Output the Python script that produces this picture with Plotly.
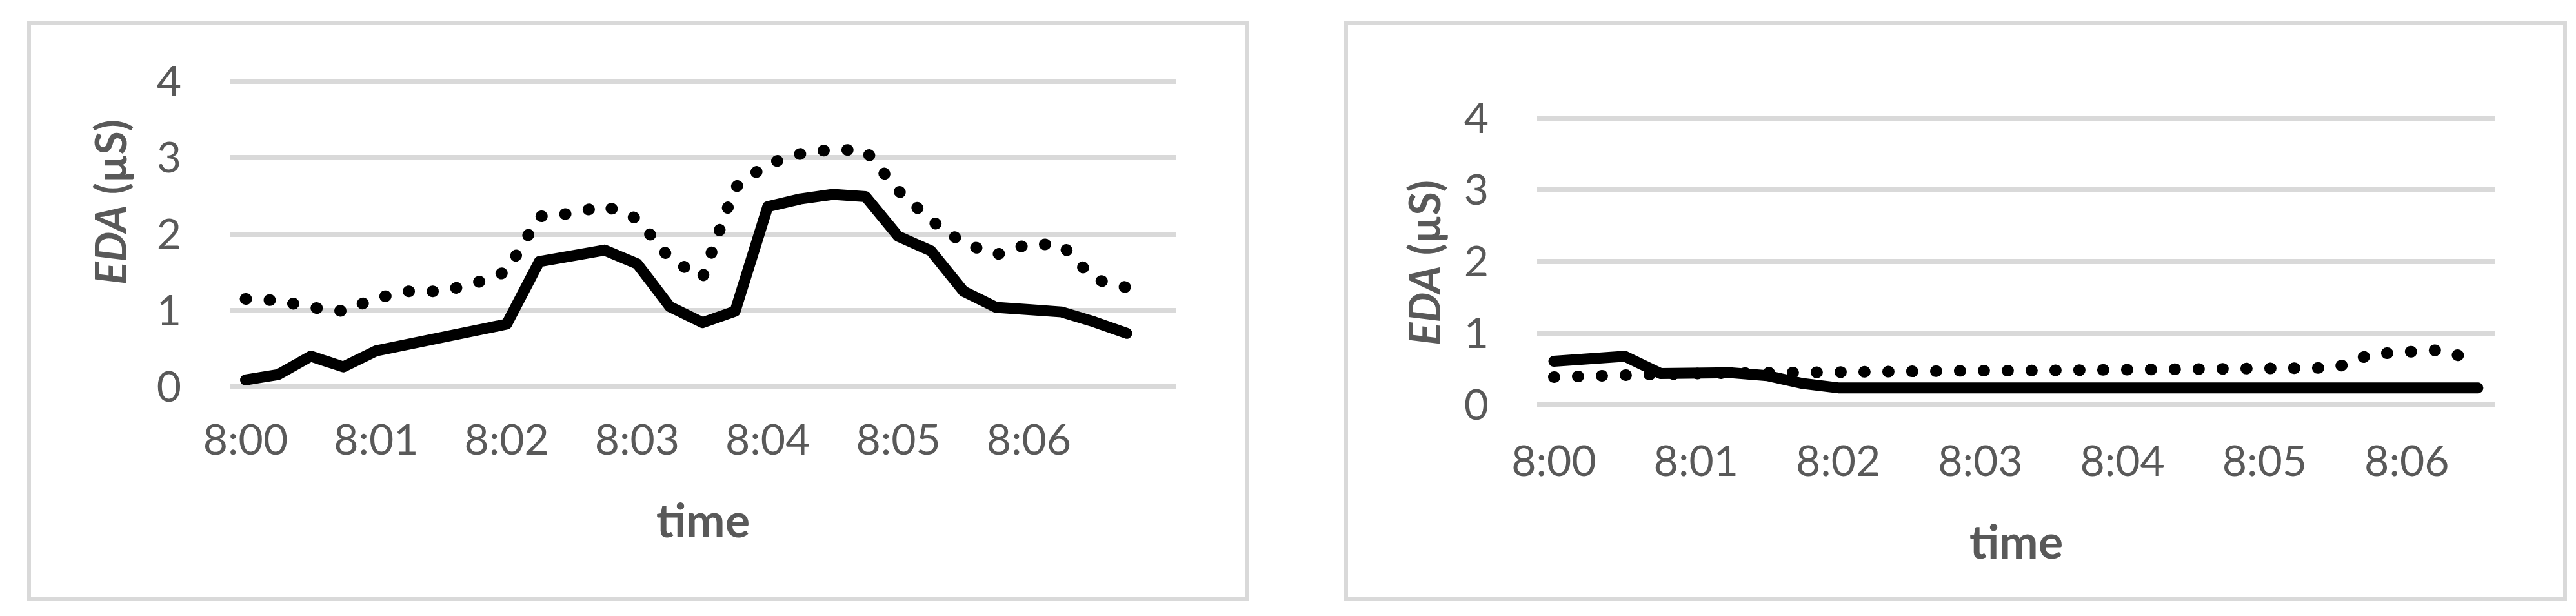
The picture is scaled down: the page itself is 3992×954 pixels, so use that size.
import plotly.graph_objects as go

W, H = 3992, 954

# ---------------- data ----------------
time_left = ["8:00:00", "8:00:15", "8:00:30", "8:00:45", "8:01:00", "8:01:15", "8:01:30",
             "8:01:45", "8:02:00", "8:02:15", "8:02:30", "8:02:45", "8:03:00", "8:03:15",
             "8:03:30", "8:03:45", "8:04:00", "8:04:15", "8:04:30", "8:04:45", "8:05:00",
             "8:05:15", "8:05:30", "8:05:45", "8:06:00", "8:06:15", "8:06:30", "8:06:45"]
left_solid = [0.09, 0.16, 0.40, 0.26, 0.47, 0.55, 0.63, 0.74, 0.82, 1.64, 1.70, 1.79, 1.61, 1.05,
              0.84, 0.99, 2.36, 2.46, 2.52, 2.49, 1.97, 1.78, 1.25, 1.04, 1.01, 0.98, 0.85, 0.70]
left_dotted = [1.15, 1.13, 1.04, 0.99, 1.16, 1.25, 1.25, 1.35, 1.51, 2.23, 2.27, 2.37, 2.20, 1.68,
               1.43, 2.61, 2.92, 3.05, 3.11, 3.09, 2.57, 2.18, 1.88, 1.73, 1.87, 1.86, 1.41, 1.30]

time_right = ["8:00:00", "8:00:15", "8:00:30", "8:00:45", "8:01:00", "8:01:15", "8:01:30",
              "8:01:45", "8:02:00", "8:02:15", "8:02:30", "8:02:45", "8:03:00", "8:03:15",
              "8:03:30", "8:03:45", "8:04:00", "8:04:15", "8:04:30", "8:04:45", "8:05:00",
              "8:05:15", "8:05:30", "8:05:45", "8:06:00", "8:06:15", "8:06:30"]
right_solid = [0.61, 0.645, 0.68, 0.44, 0.45, 0.45, 0.41, 0.30, 0.24, 0.24, 0.24, 0.24, 0.24, 0.24,
               0.24, 0.24, 0.24, 0.24, 0.24, 0.24, 0.24, 0.24, 0.24, 0.24, 0.24, 0.24, 0.24]
right_dotted = [0.39, 0.39, 0.41, 0.43, 0.44, 0.45, 0.46, 0.47, 0.47, 0.47, 0.475, 0.48, 0.48, 0.48,
                0.485, 0.49, 0.49, 0.50, 0.51, 0.51, 0.51, 0.54, 0.52, 0.71, 0.75, 0.77, 0.60]

x_tick_labels = ["8:00", "8:01", "8:02", "8:03", "8:04", "8:05", "8:06"]
y_ticks = [0, 1, 2, 3, 4]
y_title = "<b><i>EDA</i> (µS)</b>"
x_title = "<b>time</b>"


def to_sec(t):
    parts = [int(p) for p in t.split(":")]
    if len(parts) == 2:
        parts.append(0)
    h, m, s = parts
    return (h - 8) * 3600 + m * 60 + s


tick_vals = [to_sec(t) for t in x_tick_labels]

TEXT = "#595959"
GRID = "#D9D9D9"
FONT = "Lato"

fig = go.Figure()

for xs, dotted, solid, xa, ya in [
    (time_left, left_dotted, left_solid, "x", "y"),
    (time_right, right_dotted, right_solid, "x2", "y2"),
]:
    secs = [to_sec(t) for t in xs]
    fig.add_trace(go.Scatter(x=secs, y=dotted, mode="lines", xaxis=xa, yaxis=ya,
                             line=dict(color="black", width=18, dash="1px,36px"),
                             showlegend=False, hoverinfo="skip"))
    fig.add_trace(go.Scatter(x=secs, y=solid, mode="lines", xaxis=xa, yaxis=ya,
                             line=dict(color="black", width=17),
                             showlegend=False, hoverinfo="skip"))


def px(x):
    return x / W


def py(y):
    return 1 - y / H


common_x = dict(tickvals=tick_vals, ticktext=x_tick_labels, showgrid=False, zeroline=False,
                showline=False, ticks="", tickfont=dict(family=FONT, size=66, color=TEXT),
                fixedrange=True, automargin=False)
common_y = dict(tickvals=y_ticks, range=[-0.05, 4.05], showgrid=True, gridcolor=GRID,
                gridwidth=8, zeroline=False, showline=False, ticks="",
                tickfont=dict(family=FONT, size=66, color=TEXT), ticklabelstandoff=74,
                fixedrange=True, automargin=False)

fig.update_layout(
    width=W, height=H, autosize=False,
    margin=dict(l=0, r=0, t=0, b=0, pad=0, autoexpand=False),
    paper_bgcolor="white", plot_bgcolor="white",
    xaxis=dict(domain=[px(348), px(1815)], range=[-7.27, 427.8], anchor="y",
               ticklabelstandoff=32, **common_x),
    yaxis=dict(domain=[py(596.9), py(112.1)], anchor="x", **common_y),
    xaxis2=dict(domain=[px(2374), px(3858)], range=[-7.08, 397.1], anchor="y2",
                ticklabelstandoff=37, **common_x),
    yaxis2=dict(domain=[py(624.85), py(169.75)], anchor="x2", **common_y),
    shapes=[
        dict(type="rect", xref="paper", yref="paper", x0=px(37), x1=px(1925), y0=py(920), y1=py(27),
             line=dict(color=GRID, width=6), fillcolor="rgba(0,0,0,0)", layer="below"),
        dict(type="rect", xref="paper", yref="paper", x0=px(2078), x1=px(3967), y0=py(920), y1=py(27),
             line=dict(color=GRID, width=6), fillcolor="rgba(0,0,0,0)", layer="below"),
    ],
    annotations=[
        dict(text=y_title, xref="paper", yref="paper", x=px(163), y=py(305), textangle=-90,
             showarrow=False, xanchor="center", yanchor="middle",
             font=dict(family=FONT, size=66, color=TEXT)),
        dict(text=y_title, xref="paper", yref="paper", x=px(2198), y=py(399), textangle=-90,
             showarrow=False, xanchor="center", yanchor="middle",
             font=dict(family=FONT, size=66, color=TEXT)),
        dict(text=x_title, xref="paper", yref="paper", x=px(1081), y=py(796),
             showarrow=False, xanchor="center", yanchor="middle",
             font=dict(family=FONT, size=72, color=TEXT)),
        dict(text=x_title, xref="paper", yref="paper", x=px(3116), y=py(829),
             showarrow=False, xanchor="center", yanchor="middle",
             font=dict(family=FONT, size=72, color=TEXT)),
    ],
)

post = ("document.querySelectorAll('.scatterlayer .js-line').forEach(function(p){"
        "p.style.strokeLinecap='round';p.style.strokeLinejoin='round';});")

fig.write_html("out.html", post_script=post, config={"displayModeBar": False})
